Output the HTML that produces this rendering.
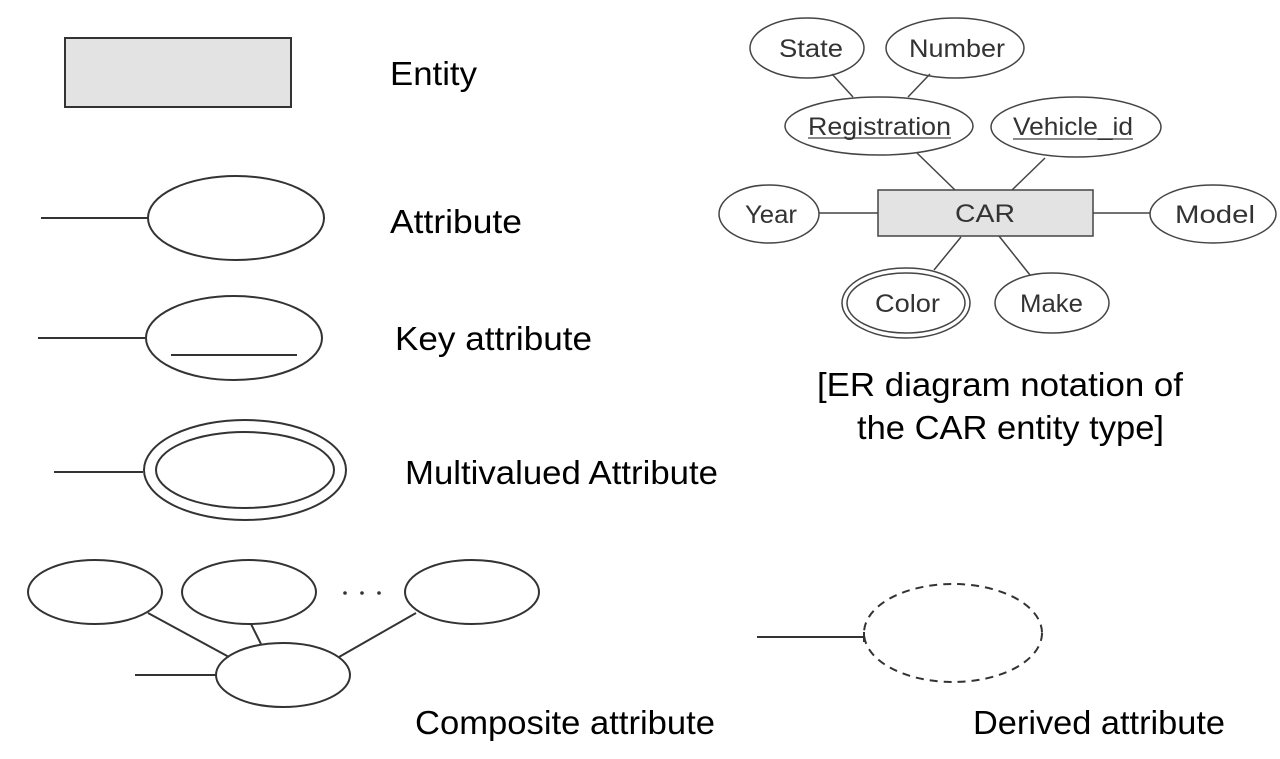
<!DOCTYPE html>
<html><head><meta charset="utf-8"><style>
html,body{margin:0;padding:0;background:#fff;}
svg{display:block;}
text{font-family:"Liberation Sans",Arial,sans-serif;}
</style></head><body>
<svg width="1280" height="759" viewBox="0 0 1280 759" xmlns="http://www.w3.org/2000/svg">
<g fill="none" stroke="#333" stroke-width="2">
<rect x="65" y="38" width="226" height="69" fill="#e3e3e3"/>
<line x1="41" y1="218" x2="148" y2="218"/>
<ellipse cx="236" cy="218" rx="88" ry="42" fill="#fff"/>
<line x1="38" y1="338" x2="145" y2="338"/>
<ellipse cx="234" cy="338" rx="88" ry="42"/>
<line x1="171" y1="355" x2="297" y2="355"/>
<line x1="54" y1="472" x2="143" y2="472"/>
<ellipse cx="245" cy="470" rx="101" ry="50"/>
<ellipse cx="245" cy="470" rx="89" ry="38"/>
<g stroke-width="2">
<ellipse cx="95" cy="592" rx="67" ry="32"/>
<ellipse cx="249" cy="592" rx="67" ry="32"/>
<ellipse cx="472" cy="592" rx="67" ry="32"/>
<ellipse cx="283" cy="675" rx="67" ry="32"/>
<line x1="148" y1="613" x2="229" y2="657"/>
<line x1="251" y1="624" x2="261" y2="644"/>
<line x1="416" y1="613" x2="339" y2="657"/>
<line x1="135" y1="675" x2="216" y2="675"/>
</g>
<g stroke="none" fill="#333"><circle cx="345" cy="593" r="1.8"/><circle cx="362" cy="593" r="1.8"/><circle cx="379" cy="593" r="1.8"/></g>
<line x1="757" y1="637" x2="864" y2="637"/>
<line x1="864" y1="632" x2="864" y2="642"/>
<ellipse cx="953" cy="633" rx="89" ry="49" stroke-dasharray="8,6"/>
<g stroke-width="1.5" stroke="#444">
<line x1="832" y1="74" x2="853" y2="97"/>
<line x1="930" y1="74" x2="908" y2="97"/>
<line x1="917" y1="153" x2="955" y2="190"/>
<line x1="1045" y1="158" x2="1012" y2="190"/>
<line x1="819" y1="213" x2="878" y2="213"/>
<line x1="1093" y1="213" x2="1150" y2="213"/>
<line x1="961" y1="237" x2="934" y2="270"/>
<line x1="999" y1="236" x2="1030" y2="275"/>
<ellipse cx="807" cy="48" rx="57" ry="30"/>
<ellipse cx="955" cy="48" rx="69" ry="30"/>
<ellipse cx="879" cy="126" rx="94" ry="29"/>
<ellipse cx="1076" cy="127" rx="85" ry="30"/>
<rect x="878" y="190" width="215" height="46" fill="#e3e3e3"/>
<ellipse cx="769" cy="214" rx="50" ry="29"/>
<ellipse cx="1213" cy="214" rx="63" ry="29"/>
<ellipse cx="906" cy="303" rx="64" ry="35"/>
<ellipse cx="906" cy="303" rx="59" ry="30"/>
<ellipse cx="1052" cy="303" rx="57" ry="30"/>
<line x1="808" y1="138" x2="951" y2="138" stroke-width="1.3"/>
<line x1="1013" y1="139" x2="1133" y2="139" stroke-width="1.3"/>
</g>
</g>
<g fill="#333" font-size="25">
<text x="779" y="57" textLength="64" lengthAdjust="spacingAndGlyphs">State</text>
<text x="909" y="57" textLength="96" lengthAdjust="spacingAndGlyphs">Number</text>
<text x="808" y="135" textLength="143" lengthAdjust="spacingAndGlyphs">Registration</text>
<text x="1013" y="135" textLength="120" lengthAdjust="spacingAndGlyphs">Vehicle_id</text>
<text x="955" y="222" textLength="60" lengthAdjust="spacingAndGlyphs">CAR</text>
<text x="745" y="223" textLength="52" lengthAdjust="spacingAndGlyphs">Year</text>
<text x="1175" y="223" textLength="80" lengthAdjust="spacingAndGlyphs">Model</text>
<text x="875" y="312" textLength="65" lengthAdjust="spacingAndGlyphs">Color</text>
<text x="1020" y="312" textLength="63" lengthAdjust="spacingAndGlyphs">Make</text>
</g>
<g fill="#000" font-size="33">
<text x="390" y="85" textLength="87" lengthAdjust="spacingAndGlyphs">Entity</text>
<text x="390" y="233" textLength="132" lengthAdjust="spacingAndGlyphs">Attribute</text>
<text x="395" y="350" textLength="197" lengthAdjust="spacingAndGlyphs">Key attribute</text>
<text x="405" y="484" textLength="313" lengthAdjust="spacingAndGlyphs">Multivalued Attribute</text>
<text x="415" y="734" textLength="300" lengthAdjust="spacingAndGlyphs">Composite attribute</text>
<text x="973" y="734" textLength="252" lengthAdjust="spacingAndGlyphs">Derived attribute</text>
<text x="817" y="396" textLength="366" lengthAdjust="spacingAndGlyphs">[ER diagram notation of</text>
<text x="857" y="439" textLength="307" lengthAdjust="spacingAndGlyphs">the CAR entity type]</text>
</g>
</svg>
</body></html>
